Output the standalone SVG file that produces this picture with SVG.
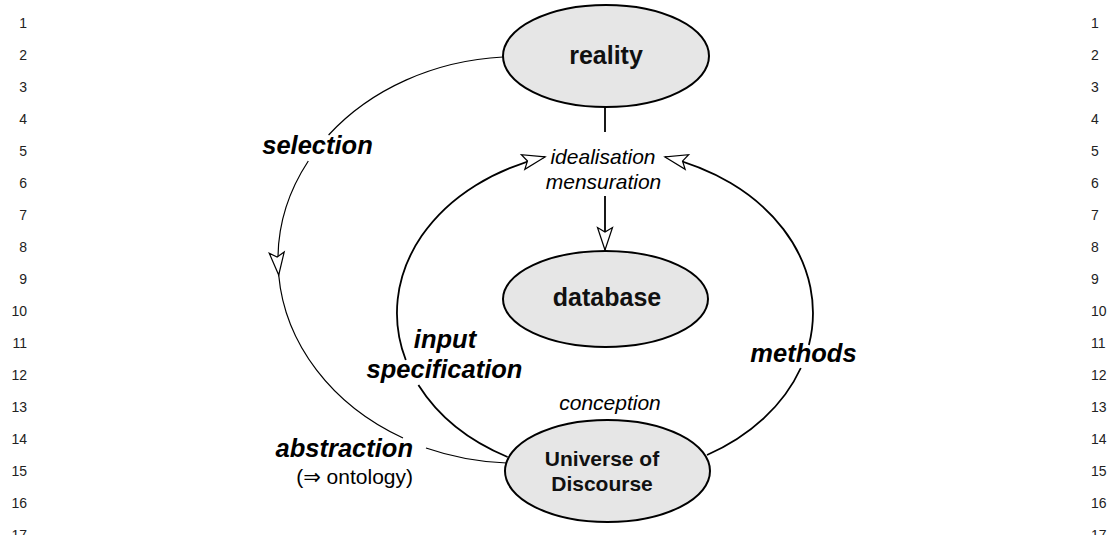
<svg xmlns="http://www.w3.org/2000/svg" width="1109" height="535" viewBox="0 0 1109 535">
  <style>
    .node { fill: #e6e6e6; stroke: #000; stroke-width: 2; }
    .ntext { font-family: "Liberation Sans", Arial, sans-serif; font-weight: bold; fill: #111; text-anchor: middle; }
    .lbl { font-family: "Liberation Sans", Arial, sans-serif; font-weight: bold; font-style: italic; font-size: 25.5px; fill: #000; }
    .note { font-family: "Liberation Sans", Arial, sans-serif; font-style: italic; font-size: 21px; fill: #000; text-anchor: middle; }
    .plain { font-family: "Liberation Sans", "DejaVu Sans", Arial, sans-serif; font-size: 21px; fill: #000; }
    .num { font-family: "Liberation Sans", Arial, sans-serif; font-size: 14px; fill: #222; }
    .thin { fill: none; stroke: #000; stroke-width: 1.2; }
    .thick { fill: none; stroke: #000; stroke-width: 1.8; }
  </style>
  <defs>
    <marker id="openArrow" markerUnits="userSpaceOnUse" markerWidth="30" markerHeight="20" viewBox="-24 -10 26 20" refX="0" refY="0" orient="auto">
      <path d="M0,0 L-22.5,-7.5 L-18,0 L-22.5,7.5 Z" fill="#fff" stroke="#000" stroke-width="1.2" stroke-linejoin="miter"/>
    </marker>
  </defs>

  <rect width="1109" height="535" fill="#fff"/>

  <!-- line numbers, left margin -->
  <g id="numbers-left" class="num" text-anchor="end">
    <text x="27" y="28">1</text>
    <text x="27" y="60">2</text>
    <text x="27" y="92">3</text>
    <text x="27" y="124">4</text>
    <text x="27" y="156">5</text>
    <text x="27" y="188">6</text>
    <text x="27" y="220">7</text>
    <text x="27" y="252">8</text>
    <text x="27" y="284">9</text>
    <text x="27" y="316">10</text>
    <text x="27" y="348">11</text>
    <text x="27" y="380">12</text>
    <text x="27" y="412">13</text>
    <text x="27" y="444">14</text>
    <text x="27" y="476">15</text>
    <text x="27" y="508">16</text>
    <text x="27" y="540">17</text>
  </g>
  <!-- line numbers, right margin -->
  <g id="numbers-right" class="num">
    <text x="1091" y="28">1</text>
    <text x="1091" y="60">2</text>
    <text x="1091" y="92">3</text>
    <text x="1091" y="124">4</text>
    <text x="1091" y="156">5</text>
    <text x="1091" y="188">6</text>
    <text x="1091" y="220">7</text>
    <text x="1091" y="252">8</text>
    <text x="1091" y="284">9</text>
    <text x="1091" y="316">10</text>
    <text x="1091" y="348">11</text>
    <text x="1091" y="380">12</text>
    <text x="1091" y="412">13</text>
    <text x="1091" y="444">14</text>
    <text x="1091" y="476">15</text>
    <text x="1091" y="508">16</text>
    <text x="1091" y="540">17</text>
  </g>

  <!-- connectors -->
  <g id="connectors">
    <!-- outer arc: reality -> selection -> abstraction -> Universe of Discourse -->
    <path class="thin" d="M503,57 A240,203.5 0 0 0 328.6,135"/>
    <path class="thin" d="M308.3,161 A240,203.5 0 0 0 278.7,275" marker-end="url(#openArrow)"/>
    <path class="thin" d="M278.7,275 A240,203.5 0 0 0 403,438"/>
    <path class="thin" d="M426,448 A240,203.5 0 0 0 506.5,463"/>
    <!-- reality down to idealisation/mensuration -->
    <line class="thick" x1="605" y1="107" x2="605" y2="132"/>
    <line class="thick" x1="605" y1="196" x2="605" y2="250" marker-end="url(#openArrow)"/>
    <!-- input specification: Universe of Discourse -> idealisation -->
    <path class="thick" d="M507.6,457 A208,163 0 0 1 418.4,385"/>
    <path class="thick" d="M405.8,360 A208,163 0 0 1 545,156.9" marker-end="url(#openArrow)"/>
    <!-- methods: Universe of Discourse -> idealisation -->
    <path class="thick" d="M707,455 A208,163 0 0 0 800.8,368"/>
    <path class="thick" d="M808.9,345 A208,163 0 0 0 665,156.9" marker-end="url(#openArrow)"/>
  </g>

  <g id="node-reality">
    <ellipse class="node" cx="606" cy="56" rx="103" ry="51"/>
    <text class="ntext" x="606" y="64" font-size="25px">reality</text>
  </g>

  <g id="node-database">
    <ellipse class="node" cx="605.5" cy="299" rx="102.5" ry="48"/>
    <text class="ntext" x="607" y="306" font-size="25px">database</text>
  </g>

  <g id="node-universe">
    <ellipse class="node" cx="607.5" cy="471" rx="102.5" ry="51"/>
    <text class="ntext" x="602" y="466" font-size="21px">Universe of</text>
    <text class="ntext" x="602" y="491" font-size="21px">Discourse</text>
  </g>

  <g id="labels">
    <text class="note" x="603" y="164">idealisation</text>
    <text class="note" x="603.5" y="189">mensuration</text>
    <text class="note" x="610" y="410">conception</text>
    <text class="lbl" x="317.5" y="154" text-anchor="middle">selection</text>
    <text class="lbl" x="445" y="348" text-anchor="middle">input</text>
    <text class="lbl" x="444.5" y="378" text-anchor="middle">specification</text>
    <text class="lbl" x="803.5" y="362" text-anchor="middle">methods</text>
    <text class="lbl" x="413" y="457" text-anchor="end">abstraction</text>
    <text class="plain" x="413" y="484" text-anchor="end">(⇒ ontology)</text>
  </g>
</svg>
